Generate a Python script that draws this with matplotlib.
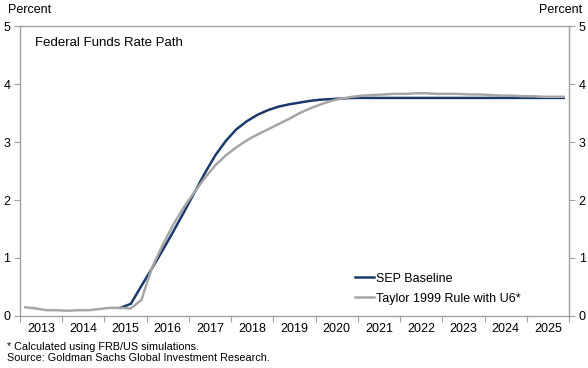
import numpy as np
import matplotlib.pyplot as plt

plt.rcParams['font.family'] = ['Liberation Sans', 'DejaVu Sans']

# quarterly data, 2013Q1 .. 2025Q4
quarters = np.arange(2013, 2026, 0.25) + 0.125

taylor = [0.15, 0.13, 0.10, 0.10,
          0.09, 0.10, 0.10, 0.12,
          0.14, 0.14, 0.13, 0.28,
          0.83, 1.22, 1.57, 1.87,
          2.13, 2.38, 2.60, 2.77,
          2.91, 3.03, 3.13, 3.22,
          3.31, 3.40, 3.50, 3.58,
          3.65, 3.71, 3.75, 3.78,
          3.80, 3.81, 3.82, 3.83,
          3.83, 3.84, 3.84, 3.83,
          3.83, 3.83, 3.82, 3.82,
          3.81, 3.80, 3.80, 3.79,
          3.79, 3.78, 3.78, 3.78]

# SEP baseline starts 2015Q2
sep_start = 9
sep = [0.14, 0.21, 0.52,
       0.82, 1.13, 1.45, 1.78,
       2.12, 2.46, 2.77, 3.02,
       3.22, 3.36, 3.47, 3.55,
       3.61, 3.65, 3.68, 3.71,
       3.73, 3.74, 3.75, 3.76,
       3.76, 3.76, 3.76, 3.76,
       3.76, 3.76, 3.76, 3.76,
       3.76, 3.76, 3.76, 3.76,
       3.76, 3.76, 3.76, 3.76,
       3.76, 3.76, 3.76, 3.76]

years = list(range(2013, 2026))

fig = plt.figure(figsize=(5.88, 3.68), dpi=100)
ax = fig.add_axes([20/588, 1-316/368, 549/588, 290/368])

ax.plot(quarters[sep_start:], sep, color='#1b3a6b', lw=1.8, label='SEP Baseline')
ax.plot(quarters, taylor, color='#a6a6a6', lw=1.8, label='Taylor 1999 Rule with U6*')

ax.set_xlim(2013, 2026)
ax.set_ylim(0, 5)
ax.set_xticks(range(2013, 2027))
ax.set_xticklabels([])
ax.set_xticks([y + 0.5 for y in years], minor=True)
ax.set_xticklabels([str(y) for y in years], minor=True, fontsize=9)
ax.tick_params(axis='x', which='major', length=4, direction='out', color='#a0a0a0')
ax.tick_params(axis='x', which='minor', length=0, pad=5)

ax.set_yticks(range(6))
ax.tick_params(axis='y', which='both', left=True, right=True, labelleft=True, labelright=True,
               length=4, direction='out', color='#a0a0a0', labelsize=9, pad=3)

for s in ax.spines.values():
    s.set_color('#a0a0a0')
    s.set_linewidth(1.0)

ax.text(0.027, 0.94, 'Federal Funds Rate Path', transform=ax.transAxes, fontsize=9.5, va='center')

fig.text(8/588, 1-10/368, 'Percent', fontsize=9, va='center', ha='left')
fig.text(582/588, 1-10/368, 'Percent', fontsize=9, va='center', ha='right')

fig.text(7/588, 1-347/368, '* Calculated using FRB/US simulations.', fontsize=7.8, va='center')
fig.text(7/588, 1-358/368, 'Source: Goldman Sachs Global Investment Research.', fontsize=7.8, va='center')

ax.legend(loc='lower left', bbox_to_anchor=(0.59, 0.0), frameon=False, fontsize=9,
          handlelength=1.5, handletextpad=0.2, labelspacing=0.65)

fig.savefig('out.png', dpi=100)
